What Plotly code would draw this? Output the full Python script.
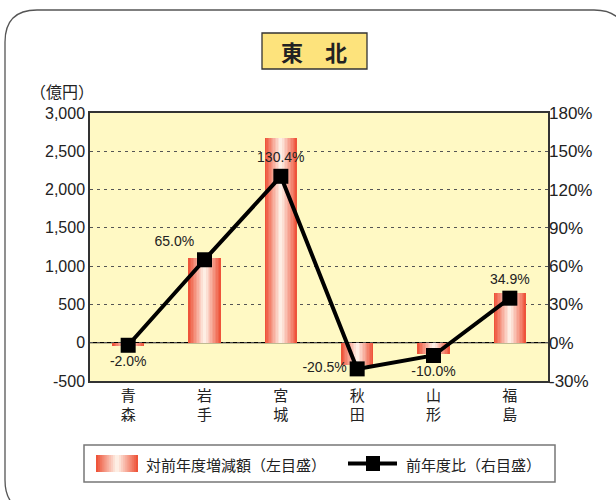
import plotly.graph_objects as go

categories = ["青<br>森", "岩<br>手", "宮<br>城", "秋<br>田", "山<br>形", "福<br>島"]
amount_change = [-45, 1110, 2680, -290, -150, 650]          # 億円 (left axis)
ratio_pct = [-2.0, 65.0, 130.4, -20.5, -10.0, 34.9]           # % (right axis)
ratio_labels = ["-2.0%", "65.0%", "130.4%", "-20.5%", "-10.0%", "34.9%"]
label_positions = ["bottom center", "top left", "top center", "middle left", "bottom center", "top center"]
left_ticks = [-500, 0, 500, 1000, 1500, 2000, 2500, 3000]
left_tick_text = ["-500", "0", "500", "1,000", "1,500", "2,000", "2,500", "3,000"]
right_ticks = [-30, 0, 30, 60, 90, 120, 150, 180]
right_tick_text = ["-30%", "0%", "30%", "60%", "90%", "120%", "150%", "180%"]

FONT = "Liberation Sans, Arial, Noto Sans CJK JP, sans-serif"
CJK = "Noto Sans CJK JP, sans-serif"

W, H = 616, 500
L, R, T, B = 90, 548, 113, 381


def px(x):
    return (x - L) / (R - L)


def py(y):
    return (B - y) / (B - T)


edge = (238, 84, 58)
center = (254, 238, 228)
N = 11


def mix(f):
    c = tuple(int(round(edge[i] + (center[i] - edge[i]) * f)) for i in range(3))
    return "rgb(%d,%d,%d)" % c


fig = go.Figure()
bar_w = 0.42
for k in range(N):
    f = k / (N - 1)
    w = bar_w * (1 - f * 0.9)
    fig.add_trace(go.Bar(
        x=categories, y=amount_change, width=[w] * len(categories),
        marker=dict(color=mix(f), line=dict(width=0)),
        showlegend=False, hoverinfo="skip", yaxis="y"))

fig.add_trace(go.Scatter(
    x=categories, y=ratio_pct, yaxis="y2", mode="lines+markers+text",
    line=dict(color="black", width=4),
    marker=dict(symbol="square", size=15, color="black"),
    text=ratio_labels, textposition=label_positions,
    textfont=dict(family=FONT, size=14, color="#222"),
    cliponaxis=False, showlegend=False))

shapes = []
# zero line
shapes.append(dict(type="line", xref="paper", yref="y", x0=0, x1=1, y0=0, y1=0,
                   line=dict(color="black", width=1.2), layer="below"))

# outer rounded border
r = 32
x0, y0, x1, y1 = 5, 10, 626, 512


def P(x, y):
    return "%.5f,%.5f" % (px(x), py(y))


path = ("M " + P(x0 + r, y0) + " L " + P(x1 - r, y0) + " Q " + P(x1, y0) + " " + P(x1, y0 + r) +
        " L " + P(x1, y1 - r) + " Q " + P(x1, y1) + " " + P(x1 - r, y1) +
        " L " + P(x0 + r, y1) + " Q " + P(x0, y1) + " " + P(x0, y1 - r) +
        " L " + P(x0, y0 + r) + " Q " + P(x0, y0) + " " + P(x0 + r, y0) + " Z")
shapes.append(dict(type="path", xref="paper", yref="paper", path=path,
                   line=dict(color="#555", width=1.3), layer="below"))

# title box
shapes.append(dict(type="rect", xref="paper", yref="paper",
                   x0=px(262), x1=px(367), y0=py(69), y1=py(33),
                   fillcolor="#fde37c", line=dict(color="#333", width=1.3)))

# legend box
shapes.append(dict(type="rect", xref="paper", yref="paper",
                   x0=px(84), x1=px(555), y0=py(482), y1=py(445),
                   fillcolor="white", line=dict(color="#777", width=1.5)))
# legend gradient swatch
sx0, sx1, sy0, sy1 = 96, 138, 455, 472
mid = (sx0 + sx1) / 2
half = (sx1 - sx0) / 2
for k in range(N):
    f = k / (N - 1)
    hw = half * (1 - f * 0.9)
    shapes.append(dict(type="rect", xref="paper", yref="paper",
                       x0=px(mid - hw), x1=px(mid + hw), y0=py(sy1), y1=py(sy0),
                       fillcolor=mix(f), line=dict(width=0)))
# legend line symbol
shapes.append(dict(type="line", xref="paper", yref="paper",
                   x0=px(348), x1=px(397), y0=py(463.5), y1=py(463.5),
                   line=dict(color="black", width=4)))
shapes.append(dict(type="rect", xref="paper", yref="paper",
                   x0=px(366), x1=px(380), y0=py(471), y1=py(456),
                   fillcolor="black", line=dict(width=0)))

annotations = [
    dict(x=px(314), y=py(51), xref="paper", yref="paper", text="<b>東　北</b>",
         xanchor="center", yanchor="middle",
         showarrow=False, font=dict(family=CJK, size=22, color="#222")),
    dict(x=px(96), y=py(91), xref="paper", yref="paper", text="（億円）",
         xanchor="right", yanchor="middle",
         showarrow=False, font=dict(family=CJK, size=16, color="#222")),
    dict(x=px(144), y=py(464), xref="paper", yref="paper", text="対前年度増減額（左目盛）",
         xanchor="left", yanchor="middle",
         showarrow=False, font=dict(family=CJK, size=15, color="#222")),
    dict(x=px(404), y=py(464), xref="paper", yref="paper", text="前年度比（右目盛）",
         xanchor="left", yanchor="middle",
         showarrow=False, font=dict(family=CJK, size=15, color="#222")),
]

fig.update_layout(
    width=W, height=H,
    margin=dict(l=L, r=W - R, t=T, b=H - B),
    paper_bgcolor="white", plot_bgcolor="#fff9c4",
    barmode="overlay", bargap=0,
    showlegend=False,
    xaxis=dict(type="category", range=[-0.5, 5.5], showgrid=False, ticks="",
               showline=True, linecolor="#333", linewidth=1.5, mirror=True,
               tickfont=dict(family=CJK, size=15, color="#222")),
    yaxis=dict(range=[-500, 3000], tickvals=left_ticks, ticktext=left_tick_text,
               showgrid=True, gridcolor="#555", griddash="3px,4px", gridwidth=1,
               zeroline=False, showline=True, linecolor="#333", linewidth=1.5,
               mirror=True, ticks="", tickfont=dict(family=FONT, size=16, color="#222")),
    yaxis2=dict(range=[-30, 180], tickvals=right_ticks, ticktext=right_tick_text,
                overlaying="y", side="right", showgrid=False, zeroline=False,
                ticks="", tickfont=dict(family=FONT, size=17, color="#222")),
    shapes=shapes, annotations=annotations,
)

fig.write_html("out.html", post_script="document.body.style.margin='0';",
               config={"displayModeBar": False})
